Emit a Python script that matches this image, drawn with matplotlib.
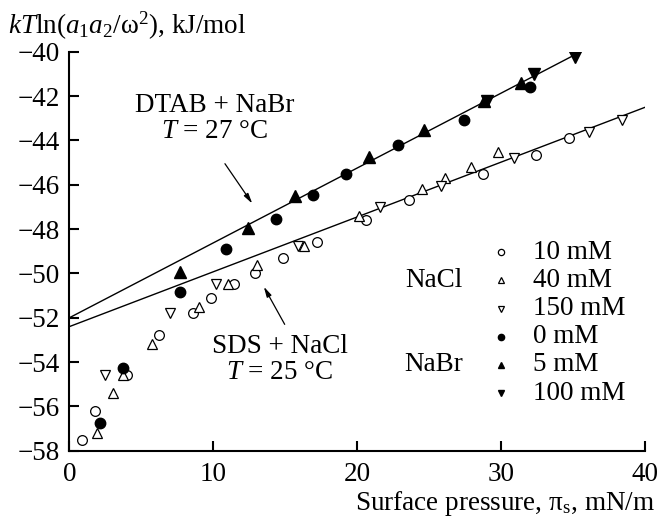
import matplotlib
matplotlib.use("Agg")
import matplotlib.pyplot as plt

plt.rcParams['font.family'] = 'Liberation Serif'
plt.rcParams['mathtext.fontset'] = 'custom'
plt.rcParams['mathtext.rm'] = 'Liberation Serif'
plt.rcParams['mathtext.it'] = 'Liberation Serif:italic'

# SDS + NaCl (open markers)
nacl10_x = [0.9, 1.8, 4.0, 6.2, 8.6, 9.8, 11.4, 12.9, 14.8, 17.2, 20.6, 23.6, 28.7, 32.4, 34.7]
nacl10_y = [-57.5, -56.2, -54.6, -52.8, -51.8, -51.1, -50.5, -50.0, -49.3, -48.6, -47.6, -46.7, -45.5, -44.65, -43.9]
nacl40_x = [1.9, 3.0, 3.7, 5.7, 9.0, 11.0, 13.0, 16.3, 20.1, 24.5, 26.1, 27.9, 29.8]
nacl40_y = [-57.2, -55.4, -54.6, -53.2, -51.5, -50.5, -49.6, -48.75, -47.4, -46.2, -45.7, -45.2, -44.5]
nacl150_x = [2.5, 7.0, 10.2, 15.9, 21.6, 25.8, 30.9, 36.1, 38.4]
nacl150_y = [-54.6, -51.8, -50.5, -48.75, -47.0, -46.05, -44.8, -43.6, -43.1]

# DTAB + NaBr (filled markers)
nabr0_x = [2.1, 3.75, 7.7, 10.85, 14.35, 16.9, 19.2, 22.85, 27.4, 32.0]
nabr0_y = [-56.75, -54.25, -50.85, -48.9, -47.55, -46.45, -45.5, -44.2, -43.1, -41.6]
nabr5_x = [7.7, 12.4, 15.7, 20.8, 24.6, 28.8, 31.4]
nabr5_y = [-49.95, -47.95, -46.5, -44.75, -43.55, -42.2, -41.4]
nabr100_x = [29.0, 32.3, 35.1]
nabr100_y = [-42.2, -41.0, -40.25]

# straight-line fits
dtab_line_x = [0, 35.8]
dtab_line_y = [-52.0, -39.9]
sds_line_x = [0, 40]
sds_line_y = [-52.4, -42.5]

legend_labels = ['10 mM', '40 mM', '150 mM', '0 mM', '5 mM', '100 mM']

FS = 19.5

fig = plt.figure(figsize=(6.68, 5.18), dpi=100)
ax = fig.add_axes([0.104, 0.13, 0.862, 0.770])

ax.plot(dtab_line_x, dtab_line_y, color='black', lw=1.0, zorder=2)
ax.plot(sds_line_x, sds_line_y, color='black', lw=1.0, zorder=2)

open_kw = dict(ls='none', mfc='white', mec='black', mew=0.9, zorder=3)
fill_kw = dict(ls='none', color='black', zorder=3)
series = [
    (nacl10_x, nacl10_y, 'o', 7, open_kw),
    (nacl40_x, nacl40_y, '^', 7.5, open_kw),
    (nacl150_x, nacl150_y, 'v', 7.5, open_kw),
    (nabr0_x, nabr0_y, 'o', 7.5, fill_kw),
    (nabr5_x, nabr5_y, '^', 8, fill_kw),
    (nabr100_x, nabr100_y, 'v', 8, fill_kw),
]
for xs, ys, m, ms, kw in series:
    ax.plot(xs, ys, marker=m, ms=ms, **kw)

# legend drawn by hand (group labels NaCl / NaBr beside it)
leg_y0 = -49.05
leg_dy = -1.27
for i, (xs, ys, m, ms, kw) in enumerate(series):
    y = leg_y0 + i * leg_dy
    ax.plot([30.0], [y], marker=m, ms=4.5, **kw)
    ax.text(32.2, y, legend_labels[i], fontsize=FS, va='center', ha='left')
ax.text(25.3, leg_y0 + leg_dy, 'NaCl', fontsize=FS, va='center', ha='center')
ax.text(25.3, leg_y0 + 4 * leg_dy, 'NaBr', fontsize=FS, va='center', ha='center')

# annotations
arrow = dict(arrowstyle='-|>,head_length=0.6,head_width=0.15', color='black', lw=0.9,
             shrinkA=0, shrinkB=0)
ax.text(10.1, -43.0, 'DTAB + NaBr\n$T$ = 27 °C', fontsize=FS, ha='center', va='center',
        linespacing=1.05)
ax.annotate('', xy=(12.7, -46.85), xytext=(10.8, -45.05), arrowprops=arrow)
ax.text(14.6, -53.9, 'SDS + NaCl\n$T$ = 25 °C', fontsize=FS, ha='center', va='center',
        linespacing=1.05)
ax.annotate('', xy=(13.5, -50.6), xytext=(14.95, -52.3), arrowprops=arrow)

ax.set_xlim(0, 40)
ax.set_ylim(-58, -40)
ax.set_xticks([0, 10, 20, 30, 40])
ax.set_yticks(range(-58, -39, 2))
ax.spines['top'].set_visible(False)
ax.spines['right'].set_visible(False)
for s in ('left', 'bottom'):
    ax.spines[s].set_linewidth(1.5)
ax.tick_params(direction='in', length=7, width=1.5, labelsize=FS)
ax.tick_params(axis='x', pad=8)
ax.tick_params(axis='y', pad=7)

fig.text(0.012, 0.95, r'$kT\ln(a_1a_2/\mathrm{\omega}^2)$, kJ/mol', fontsize=FS,
         ha='left', va='center')
fig.text(0.98, 0.016, r'Surface pressure, π$_\mathrm{s}$, mN/m', fontsize=FS,
         ha='right', va='baseline')

fig.savefig('out.png', dpi=100)
